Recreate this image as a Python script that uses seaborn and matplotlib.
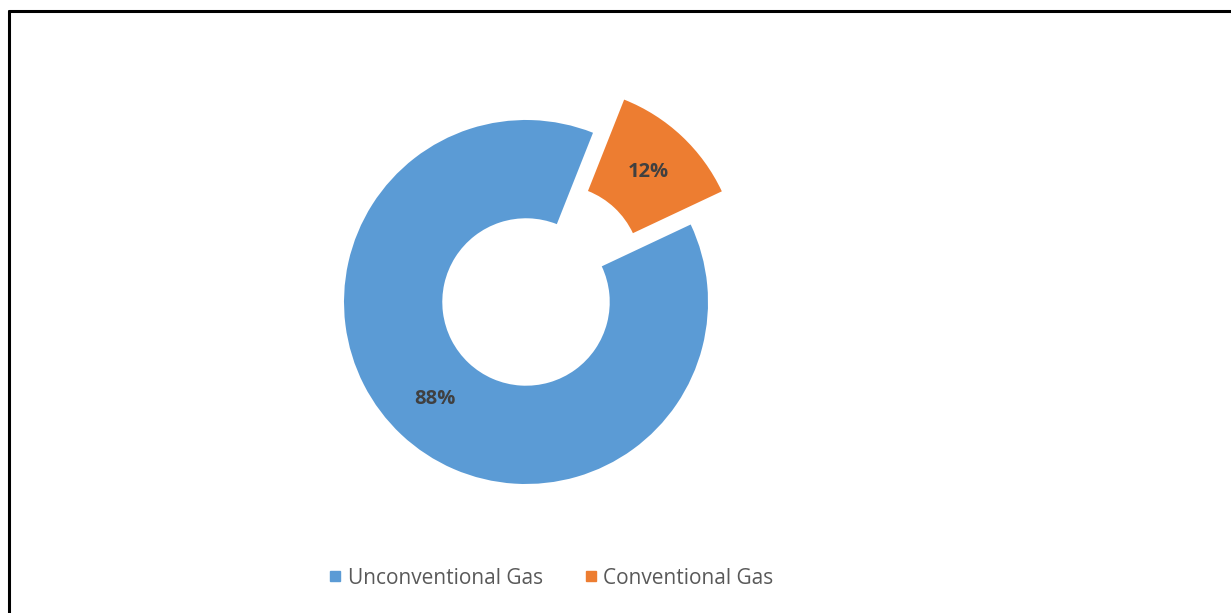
import matplotlib
matplotlib.use("Agg")
import matplotlib.pyplot as plt
from matplotlib.lines import Line2D
import seaborn as sns

# data
categories = ["Unconventional Gas", "Conventional Gas"]
shares = [88, 12]
labels = ["88%", "12%"]
colors = ["#5B9BD5", "#ED7D31"]

sns.set_theme(style="white")
plt.rcParams['font.family'] = ['Open Sans', 'DejaVu Sans']

fig = plt.figure(figsize=(12.31, 6.13), dpi=100)
ax = fig.add_axes([0.2055, 0.062, 0.4436, 0.8907])

wedges, texts, autotexts = ax.pie(
    shares, colors=sns.color_palette(colors), startangle=25.2, counterclock=False,
    explode=[0, 0.25], radius=1, autopct="%d%%", pctdistance=0.73,
    wedgeprops=dict(width=0.54, edgecolor="none"),
    textprops=dict(color="#404040", fontsize=14.5, fontweight="bold"))
for t, lab in zip(autotexts, labels):
    t.set_text(lab)
ax.set_xlim(-1.5, 1.5)
ax.set_ylim(-1.5, 1.5)
ax.set_aspect("equal")
ax.axis("off")

handles = [Line2D([0], [0], marker="s", linestyle="none", markersize=6.5,
                  markerfacecolor=c, markeredgecolor=c) for c in colors]
fig.legend(handles, categories, loc="center", bbox_to_anchor=(0.447, 0.057),
           ncol=2, frameon=False, fontsize=15, labelcolor="#595959",
           handletextpad=0.2, columnspacing=1.9, handlelength=0.8)

# partial frame like the source screenshot
ytop = (613 - 10.5) / 613
xleft = 8.5 / 1231
fig.add_artist(Line2D([xleft, 1], [ytop, ytop], color="black", lw=2.2, transform=fig.transFigure))
fig.add_artist(Line2D([xleft, xleft], [0, ytop], color="black", lw=2.2, transform=fig.transFigure))

fig.savefig("out.png", dpi=100)
